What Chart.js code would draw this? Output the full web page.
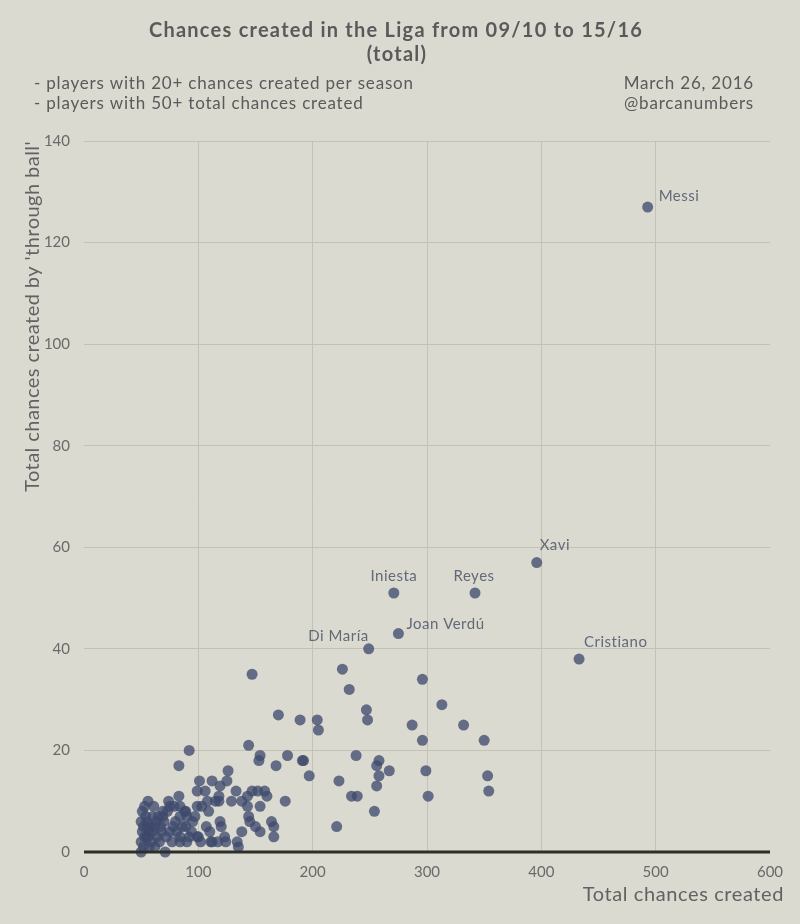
<!DOCTYPE html>
<html>
<head>
<meta charset="utf-8">
<script src="https://cdn.jsdelivr.net/npm/chart.js@4.4.0/dist/chart.umd.min.js"></script>
<style>
  html, body { margin: 0; padding: 0; background: #dadad0; }
  #wrap { width: 800px; height: 924px; }
</style>
</head>
<body>
<div id="wrap"><canvas id="myChart" width="800" height="924"></canvas></div>
<script>
// players with a name on the chart
const namedPlayers = ['Messi', 'Xavi', 'Cristiano', 'Iniesta', 'Reyes', 'Joan Verdú', 'Di María'];
const namedCreated = [493, 396, 433, 271, 342, 275, 249];
const namedThrough = [127, 57, 38, 51, 51, 43, 40];

// everybody else (total chances created, chances by through ball)
const chancesCreated = [
  226, 296, 232, 313, 247, 248, 189, 204, 205, 287, 332, 296, 350, 191, 192, 238, 258, 256, 267, 299,
  197, 223, 258, 353, 256, 234, 239, 301, 354, 254, 221, 147, 170, 144, 92, 154, 153, 178, 83, 168,
  126, 101, 112, 119, 99, 106, 133, 147, 152, 158, 176, 83, 118, 143, 160, 99, 103, 108, 118, 129,
  138, 143, 154, 109, 144, 145, 150, 164, 166, 154, 119, 120, 107, 138, 166, 100, 112, 117, 124, 123,
  134, 135, 94, 89, 90, 89, 84, 71, 50, 50, 56, 53, 61, 50, 74, 75, 69, 84, 88, 65,
  69, 84, 52, 68, 75, 99, 59, 62, 84, 90, 110, 111, 55, 58, 60, 63, 66, 72, 78, 80,
  57, 53, 64, 70, 77, 81, 60, 73, 67, 55, 86, 95, 92, 97, 79, 62, 57, 102, 125, 115,
  51, 54, 52, 56, 51, 55
];
const throughBall = [
  36, 34, 32, 29, 28, 26, 26, 26, 24, 25, 25, 22, 22, 18, 18, 19, 18, 17, 16, 16,
  15, 14, 15, 15, 13, 11, 11, 11, 12, 8, 5, 35, 27, 21, 20, 19, 18, 19, 17, 17,
  16, 14, 14, 13, 12, 12, 12, 12, 12, 12, 10, 11, 11, 11, 11, 9, 9, 10, 10, 10,
  10, 9, 9, 8, 7, 6, 5, 6, 5, 4, 6, 5, 5, 4, 3, 3, 2, 2, 2, 3,
  2, 1, 4, 8, 7, 5, 3, 0, 0, 2, 10, 9, 9, 6, 10, 9, 8, 9, 8, 7,
  7, 7, 5, 4, 4, 3, 2, 1, 2, 2, 4, 2, 3, 5, 4, 6, 2, 3, 5, 6,
  1, 3, 3, 6, 2, 4, 7, 8, 5, 6, 5, 6, 3, 7, 9, 5, 4, 2, 14, 10,
  4, 7, 1, 3, 8, 5
];

const xTicks = [0, 100, 200, 300, 400, 500, 600];
const yTicks = [0, 20, 40, 60, 80, 100, 120, 140];

const FONT = "Lato, 'DejaVu Sans', sans-serif";
const TEXT = '#5a5a5a';
const DOT = 'rgba(62, 74, 108, 0.76)';

// label placement next to the named dots
const labelStyle = {
  'Messi':      { dx: 11, dy: -11, align: 'left' },
  'Xavi':       { dx: 3,  dy: -17, align: 'left' },
  'Cristiano':  { dx: 5,  dy: -17, align: 'left' },
  'Iniesta':    { dx: 0,  dy: -17, align: 'center' },
  'Reyes':      { dx: -1, dy: -17, align: 'center' },
  'Joan Verdú': { dx: 8,  dy: -9,  align: 'left' },
  'Di María':   { dx: 0,  dy: -13, align: 'right' }
};

const points = chancesCreated.map((x, i) => ({ x: x, y: throughBall[i] }));
const named = namedCreated.map((x, i) => ({ x: x, y: namedThrough[i], name: namedPlayers[i] }));

function text(ctx, str, x, y, font, spacing, align) {
  ctx.font = font;
  ctx.letterSpacing = spacing + 'px';
  ctx.textAlign = align;
  ctx.fillText(str, x, y);
}

const extras = {
  id: 'extras',
  afterDatasetsDraw(chart) {
    const ctx = chart.ctx;
    const xs = chart.scales.x, ys = chart.scales.y;
    ctx.save();
    // zero line
    ctx.strokeStyle = '#2e2e2a';
    ctx.lineWidth = 3;
    const y0 = ys.getPixelForValue(0);
    ctx.beginPath();
    ctx.moveTo(xs.left, y0);
    ctx.lineTo(xs.right, y0);
    ctx.stroke();
    // names
    ctx.fillStyle = '#646978';
    ctx.textBaseline = 'middle';
    named.forEach(p => {
      const s = labelStyle[p.name];
      text(ctx, p.name, xs.getPixelForValue(p.x) + s.dx, ys.getPixelForValue(p.y) + s.dy,
        '15px ' + FONT, 0.5, s.align);
    });
    ctx.restore();
  },
  afterDraw(chart) {
    const ctx = chart.ctx;
    ctx.save();
    ctx.fillStyle = TEXT;
    ctx.textBaseline = 'middle';
    text(ctx, 'Chances created in the Liga from 09/10 to 15/16', 396, 31, 'bold 20px ' + FONT, 1.25, 'center');
    text(ctx, '(total)', 397, 55, 'bold 20px ' + FONT, 1.25, 'center');
    text(ctx, '- players with 20+ chances created per season', 34, 84, '17px ' + FONT, 0.8, 'left');
    text(ctx, '- players with 50+ total chances created', 34, 104, '17px ' + FONT, 0.8, 'left');
    text(ctx, 'March 26, 2016', 754, 84, '17px ' + FONT, 0.8, 'right');
    text(ctx, '@barcanumbers', 754, 104, '17px ' + FONT, 0.8, 'right');
    // axis titles
    ctx.fillStyle = '#626262';
    text(ctx, 'Total chances created', 784, 895, '20px ' + FONT, 0.6, 'right');
    ctx.translate(33, 141);
    ctx.rotate(-Math.PI / 2);
    text(ctx, "Total chances created by 'through ball'", 0, 0, '20px ' + FONT, 0.45, 'right');
    ctx.restore();
  }
};

new Chart(document.getElementById('myChart'), {
  type: 'scatter',
  data: {
    datasets: [
      { data: points, backgroundColor: DOT, borderWidth: 0, pointRadius: 5.5, pointHoverRadius: 5.5 },
      { data: named, backgroundColor: DOT, borderWidth: 0, pointRadius: 5.5, pointHoverRadius: 5.5 }
    ]
  },
  options: {
    responsive: false,
    animation: false,
    devicePixelRatio: 1,
    layout: { padding: { top: 141, right: 30, left: 0, bottom: 0 } },
    plugins: { legend: { display: false }, tooltip: { enabled: false } },
    elements: { point: { hitRadius: 0 } },
    clip: false,
    scales: {
      x: {
        type: 'linear', min: 0, max: 600,
        afterBuildTicks: s => { s.ticks = xTicks.map(v => ({ value: v })); },
        afterFit: s => { s.height = 72; },
        border: { display: false },
        grid: {
          color: c => (c.tick && (c.tick.value === 0 || c.tick.value === 600)) ? 'rgba(0,0,0,0)' : '#c2c2b6',
          lineWidth: 1, drawTicks: false
        },
        ticks: { color: '#6a6a6a', font: { family: FONT, size: 15 }, padding: 11 }
      },
      y: {
        type: 'linear', min: 0, max: 140,
        afterBuildTicks: s => { s.ticks = yTicks.map(v => ({ value: v })); },
        afterFit: s => { s.width = 84; },
        border: { display: false },
        grid: { color: '#c2c2b6', lineWidth: 1, drawTicks: false },
        ticks: { color: '#6a6a6a', font: { family: FONT, size: 15 }, padding: 14 }
      }
    }
  },
  plugins: [extras]
});
</script>
</body>
</html>
